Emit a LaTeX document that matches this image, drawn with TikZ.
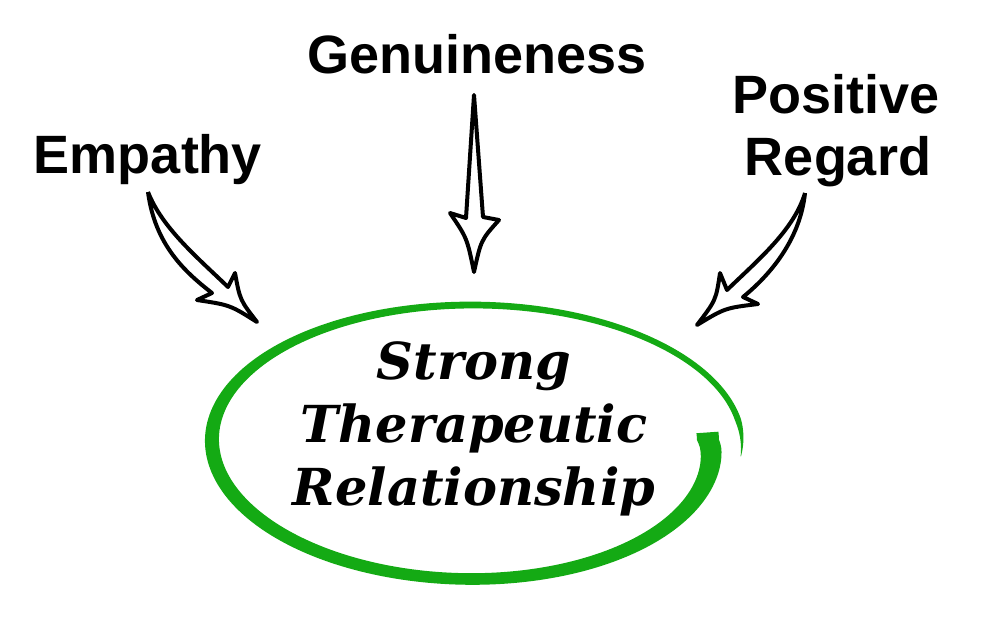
\documentclass[tikz,border=0pt]{standalone}
\usepackage{fontspec}
\setmainfont{Liberation Sans}
\newfontfamily\corefont{DejaVu Serif}
\usetikzlibrary{positioning}

\definecolor{ringgreen}{RGB}{20,170,20}

\begin{document}
\begin{tikzpicture}[
  x=0.5pt, y=-0.5pt,
  topic/.style={font=\fontsize{27}{31}\selectfont\bfseries, align=center, inner sep=0pt},
  core/.style={font=\fontsize{25.5}{31.5}\selectfont\corefont\bfseries\itshape, align=center, inner sep=0pt},
  hollow/.style={draw=black, fill=white, line width=2pt, line join=round},
  declare function={
    ringrad(\t)=236+34*sqrt(max(\t,0)/360);
    ringwd(\t)=(6+16*exp(-max(\t,0)/70)+7*exp(-((\t-170)/60)*((\t-170)/60)))*min(1,(367-\t)/16);
  }
]
\useasboundingbox (0,0) rectangle (1000,628);

% Brush ring round the central idea.
\fill[ringgreen]
  plot[domain=-4:366, samples=240, variable=\t]
    ({472+(ringrad(\t)+ringwd(\t)/2)*cos(\t)}, {442+(137+ringwd(\t)/2)*sin(\t)})
  -- plot[domain=366:-4, samples=240, variable=\t]
    ({472+(ringrad(\t)-ringwd(\t)/2)*cos(\t)}, {442+(137-ringwd(\t)/2)*sin(\t)})
  -- cycle;

\node[core, anchor=base] (core) at (474,505)
  {Strong\\Therapeutic\\Relationship};

% The three conditions.
\node[topic, anchor=base] (empathy) at (148,173) {Empathy};
\node[topic, anchor=base] (genuine) at (477,73) {Genuineness};
\node[topic, anchor=base] (positive) at (836,113) {Positive};
\node[topic, anchor=base] (regard) at (838,175) {Regard};

% Hollow arrows pointing at the ring.
\coordinate (empTail) at (148,192);
\coordinate (empTip) at (257,322);
\draw[hollow] (empTail) .. controls (155,245) and (185,272) .. (212,293)
  -- (197,300) .. controls (230,305) .. (empTip)
  .. controls (240,300) .. (235,273) -- (228,287)
  .. controls (198,258) and (162,228) .. (empTail);

\coordinate (genTail) at (474,95);
\coordinate (genTip) at (474,272);
\draw[hollow] (genTail) -- (466,218) -- (450,213)
  .. controls (467,238) .. (genTip)
  .. controls (481,240) .. (499,220) -- (483,217) -- cycle;

\coordinate (posTail) at (805,193);
\coordinate (posTip) at (697,325);
\draw[hollow] (posTail) .. controls (800,240) and (770,275) .. (743,297)
  -- (758,304) .. controls (725,308) .. (posTip)
  .. controls (716,300) .. (720,273) -- (727,290)
  .. controls (758,260) and (794,230) .. (posTail);

\end{tikzpicture}
\end{document}
